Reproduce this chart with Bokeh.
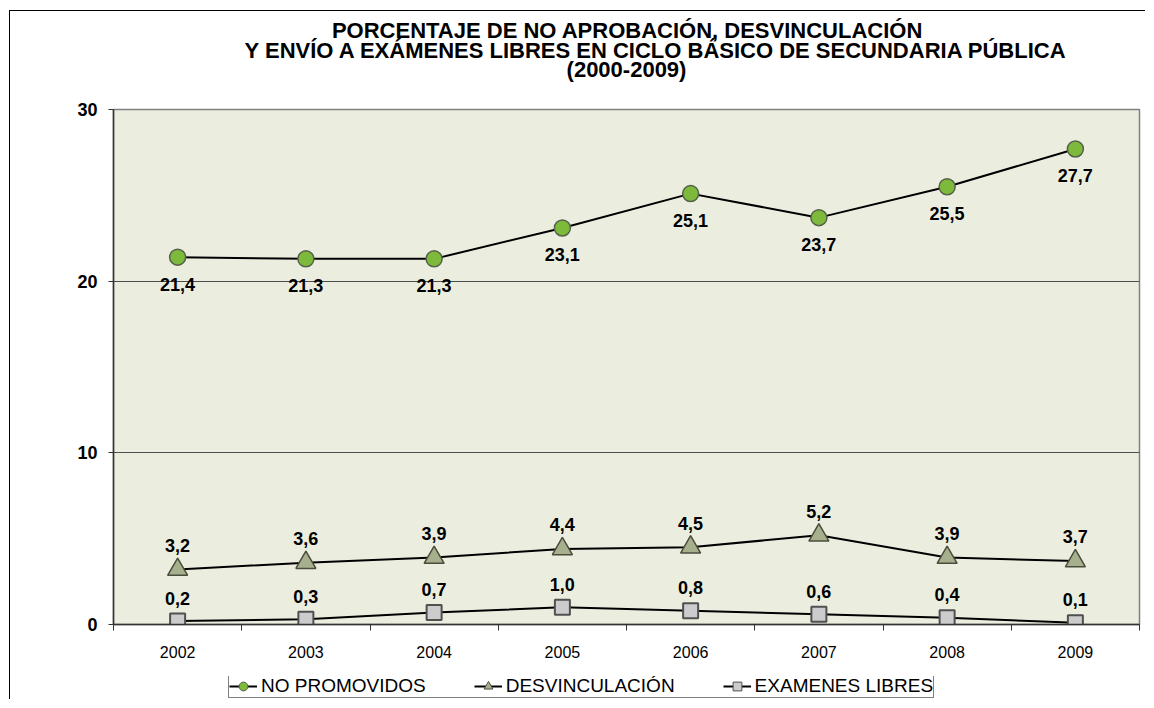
from bokeh.plotting import figure
from bokeh.layouts import column
from bokeh.models import (Range1d, FixedTicker, ColumnDataSource, LabelSet, Label,
                          Legend, LegendItem)
from bokeh.core.properties import value
from bokeh.embed import file_html
from bokeh.resources import INLINE

years = ["2002", "2003", "2004", "2005", "2006", "2007", "2008", "2009"]
no_promovidos = [21.4, 21.3, 21.3, 23.1, 25.1, 23.7, 25.5, 27.7]
desvinculacion = [3.2, 3.6, 3.9, 4.4, 4.5, 5.2, 3.9, 3.7]
examenes_libres = [0.2, 0.3, 0.7, 1.0, 0.8, 0.6, 0.4, 0.1]
y_ticks = [0, 10, 20, 30]
title_lines = ["PORCENTAJE DE NO APROBACIÓN, DESVINCULACIÓN",
               "Y ENVÍO A EXÁMENES LIBRES EN CICLO BÁSICO DE SECUNDARIA PÚBLICA",
               "(2000-2009)"]
series_names = ["NO PROMOVIDOS", "DESVINCULACIÓN", "EXAMENES LIBRES"]

FONT = "Liberation Sans"
PAD_L, PAD_T = 9, 10           # outer chart border position on the page
OX, OY = PAD_L + 1, PAD_T + 1  # canvas origin on the page
W = 1146 - OX
HT = 85                        # title strip height
FRAME_L, FRAME_R = 113, 1139   # plot area on the page
BL, BR = FRAME_L - OX, OX + W - FRAME_R
BT, BB = 110 - OY - HT, 51
FH = 515
H = BT + FH + BB
LEG_H = 700 - OY - HT - H
YMAX = 30.0

# ---- title strip (data coords == page coords)
pt = figure(width=W, height=HT, output_backend="svg", toolbar_location=None,
            x_range=Range1d(FRAME_L, FRAME_R), y_range=Range1d(OY + HT, OY),
            x_axis_location=None, y_axis_location=None,
            min_border_left=BL, min_border_right=BR, min_border_top=0, min_border_bottom=0,
            background_fill_color="white", border_fill_color="white",
            styles={"border-left": "1px solid black", "border-top": "1px solid black"})
pt.outline_line_color = None
pt.xgrid.visible = False
pt.ygrid.visible = False
title_pos = [(627, 30), (656, 50), (626, 69)]
for line, (tx, ty) in zip(title_lines, title_pos):
    pt.add_layout(Label(x=tx, y=ty, text=line, text_align="center",
                        text_baseline="middle", text_font=FONT, text_font_size="22px",
                        text_font_style="bold", text_color="black"))

# ---- main chart
p = figure(width=W, height=H, output_backend="svg", toolbar_location=None,
           x_range=Range1d(0, len(years)), y_range=Range1d(0, YMAX),
           min_border_left=BL, min_border_right=BR, min_border_top=BT, min_border_bottom=BB,
           background_fill_color="#EBEEDF", border_fill_color="white",
           styles={"border-left": "1px solid black"})
p.outline_line_color = "#808080"
p.outline_line_width = 1.5

xs = [i + 0.5 for i in range(len(years))]

p.xaxis.ticker = FixedTicker(ticks=xs, minor_ticks=list(range(len(years) + 1)))
p.xaxis.major_label_overrides = {x: y for x, y in zip(xs, years)}
p.xaxis.major_tick_out = 0
p.xaxis.major_tick_in = 0
p.xaxis.minor_tick_out = 6
p.xaxis.minor_tick_in = 0
p.xaxis.minor_tick_line_color = "#333333"
p.xaxis.axis_line_color = "#333333"
p.xaxis.axis_line_width = 1.5
p.xaxis.major_label_text_font = FONT
p.xaxis.major_label_text_font_size = "16px"
p.xaxis.major_label_text_color = "black"
p.xaxis.major_label_standoff = 15

p.yaxis.ticker = FixedTicker(ticks=y_ticks, minor_ticks=[])
p.yaxis.major_tick_out = 5
p.yaxis.major_tick_in = 0
p.yaxis.major_tick_line_color = "#333333"
p.yaxis.axis_line_color = "#333333"
p.yaxis.axis_line_width = 1.5
p.yaxis.major_label_text_font = FONT
p.yaxis.major_label_text_font_size = "18px"
p.yaxis.major_label_text_font_style = "bold"
p.yaxis.major_label_text_color = "black"
p.yaxis.major_label_standoff = 11

p.xgrid.grid_line_color = None
p.ygrid.ticker = FixedTicker(ticks=[10, 20])
p.ygrid.grid_line_color = "#4d4d4d"
p.ygrid.grid_line_width = 1

# ---- legend strip
pl = figure(width=W, height=LEG_H, output_backend="svg", toolbar_location=None,
            x_range=Range1d(0, 1), y_range=Range1d(0, 1),
            x_axis_location=None, y_axis_location=None,
            min_border_left=BL, min_border_right=BR, min_border_top=1, min_border_bottom=0,
            background_fill_color="white", border_fill_color="white",
            styles={"border-left": "1px solid black"})
pl.outline_line_color = None
pl.xgrid.visible = False
pl.ygrid.visible = False

# ---- series
styles = [
    dict(marker="circle", size=16, fill="#7DBA3C", line="#56604a", lw=1.5),
    dict(marker="triangle", size=20, fill="#A7B08C", line="#4a4d3c", lw=1.5),
    dict(marker="square", size=15, fill="#CCCCCC", line="#505050", lw=2),
]
data = [no_promovidos, desvinculacion, examenes_libres]
offsets = [-27, 24, 23]
items = []
for name, vals, st, off in zip(series_names, data, styles, offsets):
    src = ColumnDataSource(dict(x=xs, y=vals, t=[f"{v:.1f}".replace(".", ",") for v in vals]))
    p.line("x", "y", source=src, line_color="black", line_width=2)
    p.scatter("x", "y", source=src, marker=st["marker"], size=st["size"],
              fill_color=st["fill"], line_color=st["line"], line_width=st["lw"])
    p.add_layout(LabelSet(x="x", y="y", text="t", source=src, y_offset=off,
                          text_align="center", text_baseline="middle",
                          text_font=value(FONT), text_font_size=value("18px"),
                          text_font_style=value("bold"), text_color=value("black")))
    hidden = ColumnDataSource(dict(x=[-5, -4], y=[-5, -5]))
    ln = pl.line("x", "y", source=hidden, line_color="black", line_width=2)
    sc = pl.scatter("x", "y", source=hidden, marker=st["marker"], size=st["size"],
                    fill_color=st["fill"], line_color=st["line"], line_width=1)
    items.append(LegendItem(label=name, renderers=[ln, sc]))

legend = Legend(items=items, orientation="horizontal", location=(228 - FRAME_L, 1),
                border_line_color="black", border_line_width=1,
                background_fill_color="white", background_fill_alpha=1,
                label_text_font=FONT, label_text_font_size="19px", label_text_color="black",
                glyph_width=28, glyph_height=22, label_height=22, label_standoff=4,
                spacing=48, padding=0, margin=0)
pl.add_layout(legend)

layout = column(pt, p, pl, spacing=0,
                styles={"padding-left": f"{PAD_L}px", "padding-top": f"{PAD_T}px"})

open("out.html", "w").write(file_html(layout, INLINE))
